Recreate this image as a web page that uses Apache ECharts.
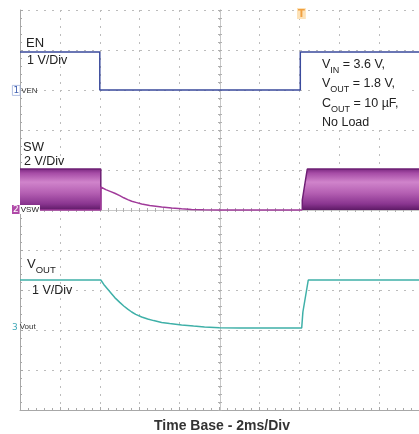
<!DOCTYPE html>
<html>
<head>
<meta charset="utf-8">
<script src="https://cdn.jsdelivr.net/npm/echarts/dist/echarts.min.js"></script>
<style>
html,body{margin:0;padding:0;background:#fff;}
#chart{width:419px;height:434px;}
</style>
</head>
<body>
<div id="chart"></div>
<script>
// time in ms (2 ms/div), values in volts
var timeTicks = [0, 2, 4, 6, 8, 10, 12, 14, 16, 18, 20];

var enTrace = [[0, 0.95], [4.0, 0.95], [4.0, 0.0], [14.05, 0.0], [14.05, 0.95], [20, 0.95]];

var swBandA = [[0, 2.05], [4.05, 2.05], [4.05, 0]];
var swBandB = [[14.15, 0], [14.15, 0.5], [14.4, 2.05], [20, 2.05]];
var swTrace = [[0, 0], [4.05, 0], [4.05, 1.15], [4.3, 1.02], [4.55, 0.92], [4.75, 0.84], [5.0, 0.72],
  [5.2, 0.61], [5.4, 0.52], [5.6, 0.44], [5.85, 0.37], [6.1, 0.3], [6.5, 0.23], [7.1, 0.15],
  [7.6, 0.1], [8.1, 0.06], [8.6, 0.03], [9.2, 0.01], [10, 0], [14.15, 0]];

var voutTrace = [[0, 1.25], [4.05, 1.25], [4.2, 1.14], [4.4, 1.02], [4.6, 0.9], [4.75, 0.81],
  [5.0, 0.69], [5.2, 0.6], [5.4, 0.52], [5.6, 0.45], [5.8, 0.39], [6.1, 0.325], [6.4, 0.275],
  [6.7, 0.235], [7.1, 0.19], [7.5, 0.16], [8.1, 0.125], [8.7, 0.097], [9.25, 0.077], [10, 0.058],
  [11, 0.05], [14.12, 0.05], [14.18, 0.45], [14.45, 1.25], [20, 1.25]];

// scope channel settings: reference level (div from bottom) and V/div
var EN_REF = 8, EN_SCALE = 1;
var SW_REF = 5, SW_SCALE = 2;
var VOUT_REF = 2, VOUT_SCALE = 1;

function toDiv(arr, ref, scale) {
  return arr.map(function (p) { return [p[0], ref + p[1] / scale]; });
}

var chart = echarts.init(document.getElementById('chart'), null, {renderer: 'canvas'});

var FONT = 'Liberation Sans, Arial, sans-serif';
var NARROW = 'Liberation Sans Narrow, Liberation Sans, sans-serif';
var gridColor = '#bcbcbc';
var dotted = {color: gridColor, width: 1, type: [2, 6]};

var bandGradient = new echarts.graphic.LinearGradient(0, 0, 0, 1, [
  {offset: 0, color: '#7d2a82'},
  {offset: 0.1, color: '#a64ca6'},
  {offset: 0.32, color: '#d084cb'},
  {offset: 0.58, color: '#b560b3'},
  {offset: 0.85, color: '#8a3590'},
  {offset: 1, color: '#5e1a66'}
]);

function centerAxisX(extra) {
  return Object.assign({
    type: 'value', min: 0, max: 20, interval: 2,
    axisLine: {show: true, lineStyle: {color: '#c8c8c8', width: 1}},
    axisTick: {show: true, length: 2, lineStyle: {color: '#b0b0b0'}},
    minorTick: {show: true, splitNumber: 5, length: 2, lineStyle: {color: '#b0b0b0'}},
    axisLabel: {show: false}, splitLine: {show: false}
  }, extra);
}
function centerAxisY(extra) {
  return Object.assign({
    type: 'value', min: 0, max: 10, interval: 1,
    axisLine: {show: true, lineStyle: {color: '#c8c8c8', width: 1}},
    axisTick: {show: true, length: 2, lineStyle: {color: '#b0b0b0'}},
    minorTick: {show: true, splitNumber: 5, length: 2, lineStyle: {color: '#b0b0b0'}},
    axisLabel: {show: false}, splitLine: {show: false}
  }, extra);
}

var option = {
  animation: false,
  backgroundColor: '#fff',
  grid: {left: 20, top: 10, width: 400, height: 400, containLabel: false},
  xAxis: [
    {
      type: 'value', min: 0, max: 20, interval: 2,
      axisLine: {show: true, lineStyle: {color: '#a8a8a8', width: 1}},
      axisTick: {show: true, inside: true, length: 3, lineStyle: {color: '#a8a8a8'}},
      minorTick: {show: true, splitNumber: 5, length: 2, lineStyle: {color: '#a8a8a8'}},
      axisLabel: {show: false},
      splitLine: {show: true, lineStyle: dotted}
    },
    centerAxisX({position: 'bottom', offset: -200}),
    centerAxisX({position: 'bottom', offset: -200, axisTick: {show: true, inside: true, length: 2, lineStyle: {color: '#b0b0b0'}}, minorTick: {show: true, splitNumber: 5, length: 2, lineStyle: {color: '#b0b0b0'}}})
  ],
  yAxis: [
    {
      type: 'value', min: 0, max: 10, interval: 1,
      axisLine: {show: true, lineStyle: {color: '#a8a8a8', width: 1}},
      axisTick: {show: true, inside: true, length: 3, lineStyle: {color: '#a8a8a8'}},
      minorTick: {show: true, splitNumber: 5, length: 2, lineStyle: {color: '#a8a8a8'}},
      axisLabel: {show: false},
      splitLine: {show: true, lineStyle: dotted}
    },
    centerAxisY({position: 'left', offset: -200}),
    centerAxisY({position: 'right', offset: -200})
  ],
  title: {
    text: 'Time Base - 2ms/Div',
    left: 217, top: 414, textAlign: 'center',
    textStyle: {fontFamily: FONT, fontSize: 14, fontWeight: 'bold', color: '#333'}
  },
  series: [
    {
      name: 'SW band A', type: 'line', data: toDiv(swBandA, SW_REF, SW_SCALE),
      showSymbol: false, symbol: 'none',
      lineStyle: {color: '#6e1f74', width: 1.5},
      areaStyle: {origin: SW_REF, color: bandGradient, opacity: 1}, z: 3
    },
    {
      name: 'SW band B', type: 'line', data: toDiv(swBandB, SW_REF, SW_SCALE),
      showSymbol: false, symbol: 'none',
      lineStyle: {color: '#6e1f74', width: 1.5},
      areaStyle: {origin: SW_REF, color: bandGradient, opacity: 1}, z: 3
    },
    {
      name: 'SW', type: 'line', data: toDiv(swTrace, SW_REF, SW_SCALE),
      showSymbol: false, symbol: 'none',
      lineStyle: {color: '#a03a9a', width: 1.5}, z: 4
    },
    {
      name: 'EN', type: 'line', data: toDiv(enTrace, EN_REF, EN_SCALE),
      showSymbol: false, symbol: 'none',
      lineStyle: {color: '#3a4a9c', width: 1.5}, z: 4
    },
    {
      name: 'VOUT', type: 'line', data: toDiv(voutTrace, VOUT_REF, VOUT_SCALE),
      showSymbol: false, symbol: 'none',
      lineStyle: {color: '#3fb0a8', width: 1.5}, z: 4
    }
  ],
  graphic: [
    {type: 'rect', shape: {x: 316, y: 56, width: 92, height: 74}, style: {fill: '#fff'}, z: 10},
    {type: 'text', left: 322, top: 58, z: 11, style: {
      text: '{v|V}{s|IN}{v| = 3.6 V,}\n{v|V}{s|OUT}{v| = 1.8 V,}\n{v|C}{s|OUT}{v| = 10 µF,}\n{v|No Load}',
      rich: {
        v: {fontFamily: FONT, fontSize: 12.5, fill: '#222', lineHeight: 19.5, verticalAlign: 'bottom'},
        s: {fontFamily: FONT, fontSize: 9, fill: '#222', lineHeight: 19.5, padding: [0, 0, -4, 0], verticalAlign: 'bottom'}
      }
    }},
    {type: 'text', left: 26, top: 37, z: 11, style: {text: 'EN', fontFamily: FONT, fontSize: 13, fill: '#222'}},
    {type: 'text', left: 27, top: 54, z: 11, style: {text: '1 V/Div', fontFamily: FONT, fontSize: 12.5, fill: '#222'}},
    {type: 'text', left: 23, top: 141, z: 11, style: {text: 'SW', fontFamily: FONT, fontSize: 13, fill: '#222'}},
    {type: 'text', left: 24, top: 155, z: 11, style: {text: '2 V/Div', fontFamily: FONT, fontSize: 12.5, fill: '#222'}},
    {type: 'text', left: 27, top: 258, z: 11, style: {
      text: '{v|V}{s|OUT}',
      rich: {
        v: {fontFamily: FONT, fontSize: 13, fill: '#222', verticalAlign: 'bottom', lineHeight: 16},
        s: {fontFamily: FONT, fontSize: 9.5, fill: '#222', verticalAlign: 'bottom', lineHeight: 16, padding: [0, 0, -4, 0]}
      }
    }},
    {type: 'text', left: 32, top: 284, z: 11, style: {text: '1 V/Div', fontFamily: FONT, fontSize: 12.5, fill: '#222'}},
    // channel reference markers
    {type: 'text', left: 12, top: 85, z: 11, style: {
      text: '{m|1}{t|VEN}',
      rich: {
        m: {fontSize: 9, fill: '#4060b0', borderColor: '#9fb0dc', borderWidth: 0.8, padding: [1, 1, 0, 1], fontFamily: 'DejaVu Sans'},
        t: {fontSize: 8, fill: '#333', fontFamily: NARROW, padding: [0, 0, 0, 1]}
      }
    }},
    {type: 'text', left: 12, top: 205, z: 20, style: {
      text: '{m|2}{t|VSW}',
      rich: {
        m: {fontSize: 9, fill: '#fff', backgroundColor: '#b04aa8', padding: [0, 1, 0, 1], fontFamily: 'DejaVu Sans'},
        t: {fontSize: 8, fill: '#222', fontFamily: NARROW, backgroundColor: '#fff', padding: [1, 1, 0, 1]}
      }
    }},
    {type: 'text', left: 12, top: 323, z: 11, style: {
      text: '{m|3}{t|Vout}',
      rich: {
        m: {fontSize: 9, fill: '#40a8b8', padding: [1, 1, 0, 1], fontFamily: 'DejaVu Sans'},
        t: {fontSize: 8, fill: '#333', fontFamily: NARROW, padding: [0, 0, 0, 1]}
      }
    }},
    // trigger position marker
    {type: 'text', left: 297, top: 8, z: 11, style: {
      text: 'T', fontSize: 10, fontWeight: 'bold', fill: '#f0a040', fontFamily: 'DejaVu Sans',
      backgroundColor: '#fde2b8', padding: [1, 1, 0, 1]
    }}
  ]
};
chart.setOption(option);
</script>
</body>
</html>
